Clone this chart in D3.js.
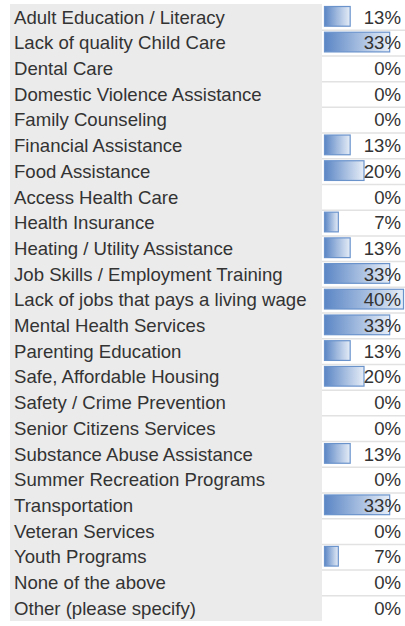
<!DOCTYPE html>
<html>
<head>
<meta charset="utf-8">
<script src="https://cdn.jsdelivr.net/npm/d3@7"></script>
<style>
  html, body { margin: 0; padding: 0; background: #ffffff; }
  svg { display: block; }
</style>
</head>
<body>
<svg id="chart" width="405" height="626"></svg>
<script>
// Survey needs: share of respondents choosing each service
const categories = [
  "Adult Education / Literacy",
  "Lack of quality Child Care",
  "Dental Care",
  "Domestic Violence Assistance",
  "Family Counseling",
  "Financial Assistance",
  "Food Assistance",
  "Access Health Care",
  "Health Insurance",
  "Heating / Utility Assistance",
  "Job Skills / Employment Training",
  "Lack of jobs that pays a living wage",
  "Mental Health Services",
  "Parenting Education",
  "Safe, Affordable Housing",
  "Safety / Crime Prevention",
  "Senior Citizens Services",
  "Substance Abuse Assistance",
  "Summer Recreation Programs",
  "Transportation",
  "Veteran Services",
  "Youth Programs",
  "None of the above",
  "Other (please specify)"
];
const percents = [13, 33, 0, 0, 0, 13, 20, 0, 7, 13, 33, 40, 33, 13, 20, 0, 0, 13, 0, 33, 0, 7, 0, 0];
const percentLabels = percents.map(v => v + "%");

const svg = d3.select("#chart");
const W = 405, H = 626;
const leftX = 10, splitX = 322, topY = 4, bottomY = 621;

const y = d3.scaleBand().domain(categories).range([topY, bottomY]).paddingInner(0).paddingOuter(0);
const x = d3.scaleLinear().domain([0, 40]).range([0, 79]);

const defs = svg.append("defs");
const grad = defs.append("linearGradient").attr("id", "barGrad")
  .attr("x1", "0%").attr("x2", "100%").attr("y1", "0%").attr("y2", "0%");
grad.append("stop").attr("offset", "0%").attr("stop-color", "#5b86c5");
grad.append("stop").attr("offset", "100%").attr("stop-color", "#e6edf7");

// label column background
svg.append("rect").attr("x", leftX).attr("y", topY)
  .attr("width", splitX - leftX).attr("height", bottomY - topY)
  .attr("fill", "#ebebeb");

// value column cells
const rows = svg.selectAll("g.row").data(categories).join("g").attr("class", "row");

rows.append("rect")
  .attr("x", splitX + 1)
  .attr("y", d => y(d) + 1)
  .attr("width", W - splitX - 1)
  .attr("height", y.bandwidth() - 2)
  .attr("fill", "#ffffff");

// separators between value cells
svg.selectAll("line.sep").data(categories.slice(1)).join("line")
  .attr("class", "sep")
  .attr("x1", splitX).attr("x2", W)
  .attr("y1", d => y(d) + 0.5).attr("y2", d => y(d) + 0.5)
  .attr("stroke", "#e2e2e2").attr("stroke-width", 1.5);

// bars
rows.filter((d, i) => percents[i] > 0).append("rect")
  .attr("x", splitX + 2.5)
  .attr("y", d => y(d) + 2.5)
  .attr("width", d => x(percents[categories.indexOf(d)]))
  .attr("height", y.bandwidth() - 6)
  .attr("fill", "url(#barGrad)")
  .attr("stroke", "#6a93cc")
  .attr("stroke-width", 1.2);

// category labels
rows.append("text")
  .attr("x", 14)
  .attr("y", d => y(d) + y.bandwidth() / 2)
  .attr("dy", "0.36em")
  .attr("font-family", "Liberation Sans, Arial, sans-serif")
  .attr("font-size", "18.6px")
  .attr("fill", "#333333")
  .text(d => d);

// percentage labels
rows.append("text")
  .attr("x", 401)
  .attr("y", d => y(d) + y.bandwidth() / 2)
  .attr("dy", "0.36em")
  .attr("text-anchor", "end")
  .attr("font-family", "Liberation Sans, Arial, sans-serif")
  .attr("font-size", "18.6px")
  .attr("fill", "#333333")
  .text((d, i) => percentLabels[i]);
</script>
</body>
</html>
